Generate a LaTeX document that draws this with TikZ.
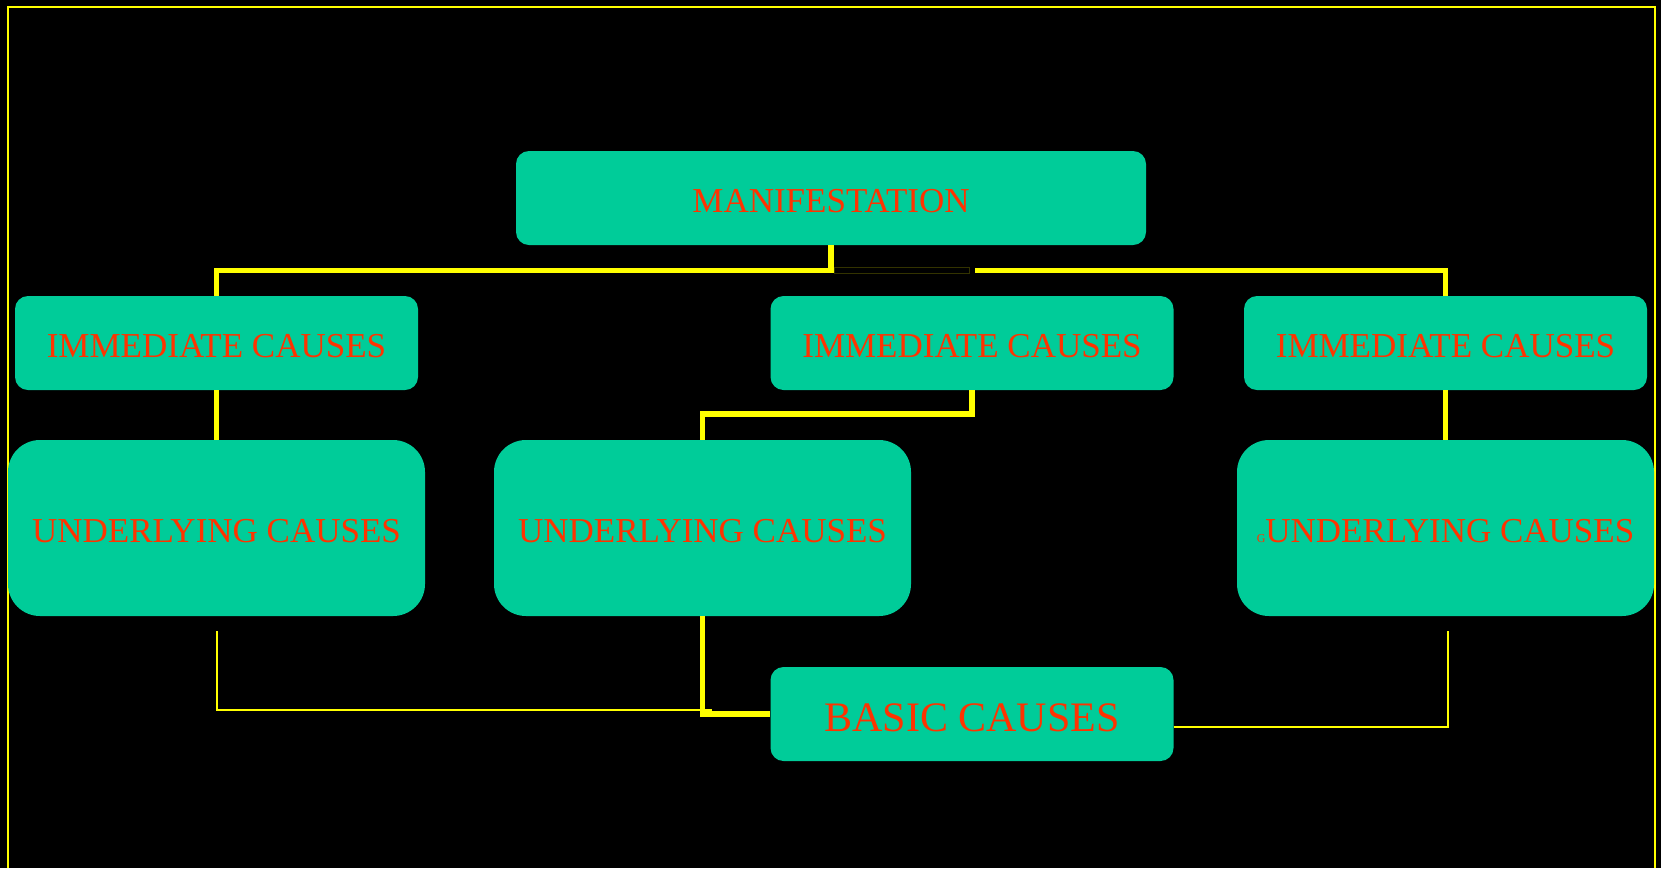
\documentclass[tikz,border=0pt]{standalone}
\usepackage{fontspec}
\setmainfont{Liberation Serif}
\usetikzlibrary{
    positioning,
    calc
}

\definecolor{boxteal}{HTML}{00CC99}
\definecolor{textred}{HTML}{FF3300}
\definecolor{linkyellow}{HTML}{FFFF00}
\definecolor{darkolive}{HTML}{333300}

\begin{document}
\begin{tikzpicture}[
    x=1pt,
    y=-1pt,
    every node/.style={
        font=\fontsize{35pt}{40pt}\selectfont,
        text=textred
    },
    block/.style={
        rectangle,
        rounded corners=13pt,
        fill=boxteal,
        minimum width=403pt,
        minimum height=94pt,
        inner sep=0pt,
        text height=29pt,
        text depth=0pt,
        align=center
    },
    topblock/.style={
        block,
        minimum width=630pt
    },
    bigblock/.style={
        block,
        rounded corners=32pt,
        minimum width=417pt,
        minimum height=176pt
    },
    basicblock/.style={
        block,
        text height=34pt,
        font=\fontsize{42pt}{48pt}\selectfont
    },
    link/.style={
        draw=linkyellow,
        line width=5.5pt
    },
    thinlink/.style={
        draw=linkyellow,
        line width=2pt
    }
]

% ===========================================================
% Canvas and frame
% ===========================================================

\fill[black] (0,0) rectangle (1661,868);
\useasboundingbox (0,0) rectangle (1661,868);

\draw[linkyellow, line width=2pt]
    (7.5,868) -- (7.5,7.3) -- (1654.7,7.3) -- (1654.7,868);

% ===========================================================
% Boxes
% ===========================================================

\node[topblock] (manif) at (831,198) {MANIFESTATION};

\node[block] (imm1) at (216.5,343) {IMMEDIATE CAUSES};
\node[block] (imm2) at (972,343) {IMMEDIATE CAUSES};
\node[block] (imm3) at (1445.5,343) {IMMEDIATE CAUSES};

\node[bigblock] (und1) at (216.5,528) {UNDERLYING CAUSES};
\node[bigblock] (und2) at (702.5,528) {UNDERLYING CAUSES};
\node[bigblock] (und3) at (1445.5,528)
    {{\fontsize{12pt}{12pt}\selectfont G}UNDERLYING CAUSES};

\node[basicblock] (basic) at (972,714) {BASIC CAUSES};

% ===========================================================
% Connectors
% ===========================================================

% Manifestation down to the outer immediate causes
\coordinate (gapright) at (975,270.5);

\draw[link] (manif.south) -- ($(manif.south)+(0,25.5)$) -| (imm1.north);
\draw[link] (gapright) -| (imm3.north);
\draw[darkolive, line width=0.6pt] (834,267.5) rectangle (969,273.3);

% Immediate causes down to underlying causes
\draw[link] (imm1.south) -- (und1.north);
\draw[link] (imm2.south) -- ++(0,24) -| (und2.north);
\draw[link] (imm3.south) -- (und3.north);

% Middle underlying causes into basic causes
\draw[link] (und2.south) |- (basic.west);

% Thin feeds from the outer underlying causes
\coordinate (leftfoot) at (712,710);
\draw[thinlink] ($(und1.south)+(0,15)$) |- (leftfoot);

\coordinate (rightfoot) at (1448,631);
\draw[thinlink] ($(basic.east)+(0,12.7)$) -| (rightfoot);

\end{tikzpicture}
\end{document}
